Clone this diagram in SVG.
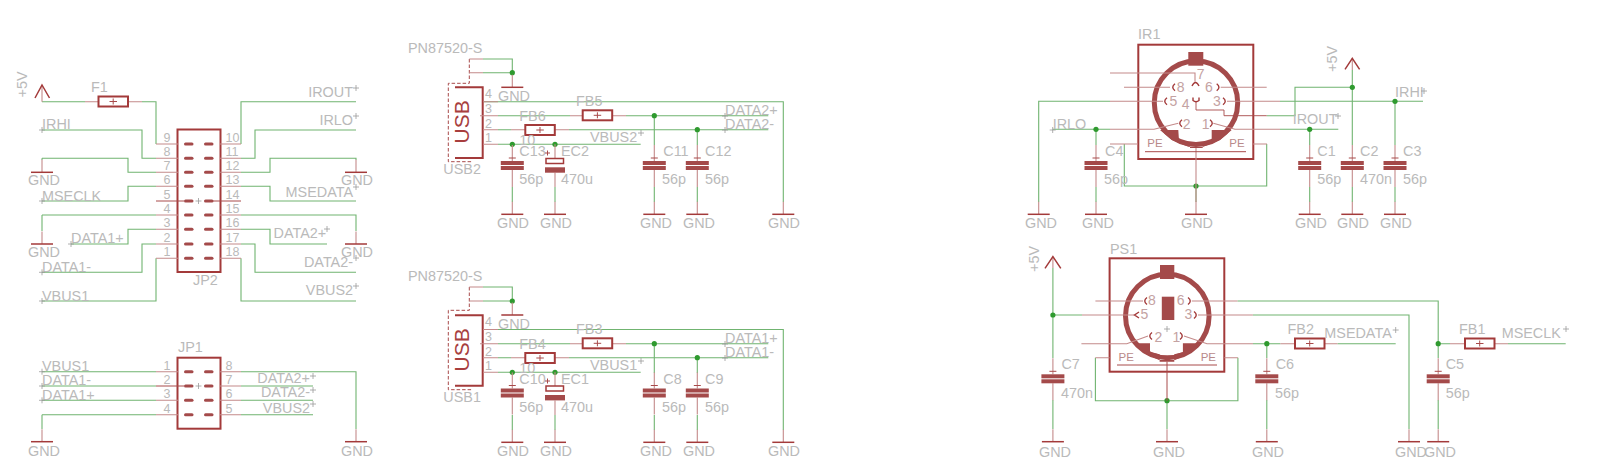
<svg xmlns="http://www.w3.org/2000/svg" xmlns:xlink="http://www.w3.org/1999/xlink" width="1600" height="472" viewBox="0 0 1600 472">
<style>
text{font-family:"Liberation Sans",Arial,sans-serif;font-size:14.400px;fill:#bababa}
.n{font-size:12.500px}
.m{font-size:14px;fill:#c4a2a2}
.pe{font-size:11.500px;fill:#b98a8a}
.u{font-size:21px;fill:#a83e3e}
.r{text-anchor:end}
.w{fill:none;stroke:#70b470;stroke-width:1.100}
.p{fill:none;stroke:#c48a8a;stroke-width:1.100}
.d{fill:none;stroke:#a84a4a;stroke-width:1}
.s{fill:none;stroke:#a33a3a;stroke-width:2}
.a{fill:none;stroke:#a33a3a;stroke-width:1.400}
.f{fill:#a44a4a;stroke:none}
.o{fill:none;stroke:#9a9a9a;stroke-width:.8}
.j{fill:#2f9a2f}
</style>
<defs>
<path id="x" class="o" d="M-3 0H3M0 -3V3"/>
<g id="cap"><path class="p" d="M0 -16V0M0 9V26"/><path class="d" d="M-3.500 -3H3.500"/><rect class="f" x="-11.500" y="0" width="23" height="4"/><rect class="f" x="-11.500" y="5" width="23" height="4"/></g>
<g id="gnd"><path class="p" d="M0 -12.500V0"/><path class="s" d="M-11 0H11" style="stroke-width:1.500"/></g>
<g id="fb"><rect class="s" x="0" y="0" width="29.500" height="10"/><path class="d" d="M11 5H18.500M14.700 2V8"/></g>
<rect id="pad" class="f" x="0" y="-1.500" width="9.500" height="3" rx="1.500"/>
<circle id="dot" class="j" r="2.600"/>
<path id="al" class="a" d="M2 -3.500Q-2.500 0 2 3.500"/>
<path id="ar" class="a" d="M-2 -3.500Q2.500 0 -2 3.500"/>
</defs>

<g id="connectors">
<path class="w" d="M42 101.700H85M142 101.700H156V144M42 130H142V158.300H156M42 158.300H128V172.300H156M42 158.300V160M42 201H128V186.300H156M42 215H156M42 215V231M71 244H128V229.300H156M42 272.300H142V244H156M42 301H156V258.300"/>
<path class="w" d="M241 144V101.700H356M241 158.300H255V130H356M241 172.300H270V158.300H356V160M241 186.300H270V201H356M241 215H356V231M241 229.300H270V244H327M241 244H255V272.300H356M241 258.300V301H356"/>
<path class="w" d="M42 371.700H156M42 386H156M42 400.300H156M42 414.700H156M42 414.700V429M241 371.700H356V429M241 386H313M241 400.300H313M241 414.700H313"/>
<path class="w" d="M483 59H512.300V74.800M483 72.700H512.300M483 101.700H783.300V202M498 115.700H570M626 115.700H768.300M498 129.700H511M569 129.700H768.300M498 144.300H640.700M654.300 115.700V145M654.300 187V202M697.300 129.700V145M697.300 187V202M512.300 187V202M555 187V202"/>
<path class="w" d="M483 287H512.300V302.500M483 301H512.300M483 329.500H783.300V430M498 343.700H570M626 343.700H768.300M498 357.700H511M569 357.700H768.300M498 372.300H640.700M654.300 343.700V373M654.300 415V430M697.300 357.700V373M697.300 415V430M512.300 415V430M555 415V430"/>
<path class="w" d="M1110 101.300H1038.700V202M1052.700 129.300H1110M1096 129.300V145M1096 187V202M1280 101.300H1423M1266.700 115.700H1295V87.300H1352.300M1280 129.300H1338.300M1309.700 129.300V145M1309.700 187V202M1352.300 70V145M1352.300 187V202M1395 101.300V145M1395 187V202M1124.300 144V186H1266.700V144M1196 186V202"/>
<path class="w" d="M1052.900 268V358M1052.900 400V429M1052.900 315H1082M1252.900 315H1409V429M1237.500 301H1438.200V358M1438.200 400V429M1253 343.700H1280.400M1337.500 343.700H1395.700M1266.800 343.700V358M1266.800 400V429M1095.400 357.700V400.700H1237.900V357.700M1167 400.700V429M1438.200 343.700H1450M1508 343.700H1565.700"/>
<use href="#dot" x="512.300" y="72.700"/><use href="#dot" x="654.300" y="115.700"/><use href="#dot" x="697.300" y="129.700"/><use href="#dot" x="512.300" y="144.300"/><use href="#dot" x="555" y="144.300"/>
<use href="#dot" x="512.300" y="301"/><use href="#dot" x="654.300" y="343.700"/><use href="#dot" x="697.300" y="357.700"/><use href="#dot" x="512.300" y="372.300"/><use href="#dot" x="555" y="372.300"/>
<use href="#dot" x="1096" y="129.300"/><use href="#dot" x="1309.700" y="129.300"/><use href="#dot" x="1352.300" y="87.300"/><use href="#dot" x="1395" y="101.300"/><use href="#dot" x="1196" y="186"/>
<use href="#dot" x="1052.900" y="315"/><use href="#dot" x="1266.800" y="343.700"/><use href="#dot" x="1438.200" y="343.700"/><use href="#dot" x="1167" y="400.700"/>
</g>

<g id="JP2">
<rect class="s" x="177.500" y="129.500" width="43" height="142.500"/>
<path class="p" d="M156 144H178M156 158.300H178M156 172.300H178M156 186.300H178M156 215H178M156 229.300H178M156 244H178M156 258.300H178M220 144H241M220 158.300H241M220 172.300H241M220 186.300H241M220 215H241M220 229.300H241M220 244H241M220 258.300H241"/>
<path class="d" d="M156 201H184M213 201H241"/>
<use href="#pad" x="184" y="144"/><use href="#pad" x="204" y="144"/><use href="#pad" x="184" y="158.300"/><use href="#pad" x="204" y="158.300"/><use href="#pad" x="184" y="172.300"/><use href="#pad" x="204" y="172.300"/><use href="#pad" x="184" y="186.300"/><use href="#pad" x="204" y="186.300"/><use href="#pad" x="184" y="201"/><use href="#pad" x="204" y="201"/><use href="#pad" x="184" y="215"/><use href="#pad" x="204" y="215"/><use href="#pad" x="184" y="229.300"/><use href="#pad" x="204" y="229.300"/><use href="#pad" x="184" y="244"/><use href="#pad" x="204" y="244"/><use href="#pad" x="184" y="258.300"/><use href="#pad" x="204" y="258.300"/>
<use href="#x" x="198.500" y="201"/>
<text class="n" x="163.500" y="141.700">9</text><text class="n" x="163.500" y="156">8</text><text class="n" x="163.500" y="170">7</text><text class="n" x="163.500" y="184">6</text><text class="n" x="163.500" y="198.700">5</text><text class="n" x="163.500" y="212.700">4</text><text class="n" x="163.500" y="227">3</text><text class="n" x="163.500" y="241.700">2</text><text class="n" x="163.500" y="256">1</text>
<text class="n" x="225.500" y="141.700">10</text><text class="n" x="225.500" y="156">11</text><text class="n" x="225.500" y="170">12</text><text class="n" x="225.500" y="184">13</text><text class="n" x="225.500" y="198.700">14</text><text class="n" x="225.500" y="212.700">15</text><text class="n" x="225.500" y="227">16</text><text class="n" x="225.500" y="241.700">17</text><text class="n" x="225.500" y="256">18</text>
<text x="193" y="285">JP2</text>
</g>

<g id="JP1">
<rect class="s" x="177.500" y="357.700" width="43" height="71"/>
<path class="p" d="M156 371.700H178M156 400.300H178M156 414.700H178M220 371.700H241M220 386H241M220 400.300H241M220 414.700H241"/>
<path class="d" d="M156 386H184"/>
<use href="#pad" x="184" y="371.700"/><use href="#pad" x="204" y="371.700"/><use href="#pad" x="184" y="386"/><use href="#pad" x="204" y="386"/><use href="#pad" x="184" y="400.300"/><use href="#pad" x="204" y="400.300"/><use href="#pad" x="184" y="414.700"/><use href="#pad" x="204" y="414.700"/>
<use href="#x" x="198.500" y="386"/>
<text class="n" x="163.500" y="369.500">1</text><text class="n" x="163.500" y="384">2</text><text class="n" x="163.500" y="398">3</text><text class="n" x="163.500" y="412.500">4</text>
<text class="n" x="225.500" y="369.500">8</text><text class="n" x="225.500" y="384">7</text><text class="n" x="225.500" y="398">6</text><text class="n" x="225.500" y="412.500">5</text>
<text x="178" y="352">JP1</text>
</g>

<g id="F1"><path class="p" d="M85 101.700H98.500M127.500 101.700H142"/><use href="#fb" x="98.500" y="96.500"/><text x="91" y="91.500">F1</text></g>
<g id="sup-5V-1"><path class="p" d="M42 85V101.700"/><path class="s" d="M35 98L42 85L49.500 98" style="stroke-width:1.500"/><text transform="translate(27 97.500) rotate(-90)">+5V</text></g>

<g id="labels-left">
<text x="42" y="129">IRHI</text><use href="#x" x="42" y="130"/>
<text x="42" y="201">MSECLK</text><use href="#x" x="42" y="201"/>
<text x="71" y="243">DATA1+</text><use href="#x" x="71" y="244"/>
<text x="42" y="272">DATA1-</text><use href="#x" x="42" y="272.300"/>
<text x="42" y="300.500">VBUS1</text><use href="#x" x="42" y="301"/>
<text class="r" x="353" y="97">IROUT</text><use href="#x" x="356" y="88"/>
<text class="r" x="353" y="125">IRLO</text><use href="#x" x="356" y="116"/>
<text class="r" x="353" y="196.500">MSEDATA</text><use href="#x" x="356" y="187"/>
<text x="273.500" y="238">DATA2+</text><use href="#x" x="327" y="229"/>
<text class="r" x="353" y="267">DATA2-</text><use href="#x" x="356" y="258"/>
<text class="r" x="353" y="295">VBUS2</text><use href="#x" x="356" y="286"/>
<text x="42" y="371">VBUS1</text><use href="#x" x="42" y="371.700"/>
<text x="42" y="385">DATA1-</text><use href="#x" x="42" y="386"/>
<text x="42" y="399.500">DATA1+</text><use href="#x" x="42" y="400.300"/>
<text class="r" x="310" y="383">DATA2+</text><use href="#x" x="313" y="376"/>
<text class="r" x="310" y="397">DATA2-</text><use href="#x" x="313" y="390"/>
<text class="r" x="310" y="412.500">VBUS2</text><use href="#x" x="313" y="404"/>
</g>

<g id="USB2">
<path class="s" d="M455 87.300H482.700V158H455"/>
<path class="d" stroke-dasharray="3.500 2" d="M469.300 59V83.300H448.300V161.700H473"/>
<path class="p" d="M469.300 59H483M469.300 72.700H483M483 101.700H498M480 115.700H498M483 129.700H498M483 144.300H498"/>
<text class="u" transform="translate(469 143.500) rotate(-90)">USB</text>
<text class="n" x="485" y="98">4</text><text class="n" x="485" y="112.700">3</text><text class="n" x="485" y="127.700">2</text><text class="n" x="485" y="141.700">1</text>
<text x="408" y="53.300">PN87520-S</text><text x="443.300" y="174.300">USB2</text>
</g>
<g id="FB5"><path class="p" d="M570 115.700H582.700M612 115.700H626"/><use href="#fb" x="582.700" y="110.300"/><text x="576" y="106">FB5</text></g>
<g id="FB6"><path class="p" d="M511 129.700H525.300M555 129.700H569"/><use href="#fb" x="525.300" y="125"/><text x="519.300" y="120.700">FB6</text><text x="519.300" y="145">10</text></g>
<g id="C13"><use href="#cap" x="512.300" y="161"/><text x="519.300" y="155.700">C13</text><text x="519.300" y="184">56p</text></g>
<g id="EC2"><path class="p" d="M555 144.300V158.500M555 172.700V187"/><rect x="546" y="158.500" width="17.500" height="5" fill="none" stroke="#a33a3a" stroke-width="1.500"/><rect class="f" x="545" y="167.300" width="20" height="5.400"/><path class="d" d="M545 153H550M547.500 150.500V155.500"/><text x="561" y="155.700">EC2</text><text x="561" y="184">470u</text></g>
<g id="C11"><use href="#cap" x="654.300" y="161"/><text x="663.300" y="155.700">C11</text><text x="662" y="184">56p</text></g>
<g id="C12"><use href="#cap" x="697.300" y="161"/><text x="705" y="155.700">C12</text><text x="705" y="184">56p</text></g>
<g id="labels-usb2"><text x="725" y="115">DATA2+</text><use href="#x" x="725" y="116"/><text x="725" y="129.300">DATA2-</text><use href="#x" x="725" y="130"/><text x="590" y="141.700">VBUS2</text><use href="#x" x="641" y="133"/></g>

<g id="USB1">
<path class="s" d="M455 315.300H482.700V385.700H455"/>
<path class="d" stroke-dasharray="3.500 2" d="M469.300 287V310.300H448.300V389.700H473"/>
<path class="p" d="M469.300 287H483M469.300 301H483M483 329.500H498M480 343.700H498M483 357.700H498M483 372.300H498"/>
<text class="u" transform="translate(469 371.500) rotate(-90)">USB</text>
<text class="n" x="485" y="326">4</text><text class="n" x="485" y="340.700">3</text><text class="n" x="485" y="355.700">2</text><text class="n" x="485" y="369.700">1</text>
<text x="408" y="281.300">PN87520-S</text><text x="443.300" y="402.300">USB1</text>
</g>
<g id="FB3"><path class="p" d="M570 343.700H582.700M612 343.700H626"/><use href="#fb" x="582.700" y="338.300"/><text x="576" y="334">FB3</text></g>
<g id="FB4"><path class="p" d="M511 357.700H525.300M555 357.700H569"/><use href="#fb" x="525.300" y="353"/><text x="519.300" y="348.700">FB4</text><text x="519.300" y="373">10</text></g>
<g id="C10"><use href="#cap" x="512.300" y="388.500"/><text x="519.300" y="383.700">C10</text><text x="519.300" y="412">56p</text></g>
<g id="EC1"><path class="p" d="M555 372.300V386M555 400.500V415"/><rect x="546" y="386" width="17.500" height="5" fill="none" stroke="#a33a3a" stroke-width="1.500"/><rect class="f" x="545" y="395" width="20" height="5.400"/><path class="d" d="M545 381H550M547.500 378.500V383.500"/><text x="561" y="383.700">EC1</text><text x="561" y="412">470u</text></g>
<g id="C8"><use href="#cap" x="654.300" y="388.500"/><text x="663.300" y="383.700">C8</text><text x="662" y="412">56p</text></g>
<g id="C9"><use href="#cap" x="697.300" y="388.500"/><text x="705" y="383.700">C9</text><text x="705" y="412">56p</text></g>
<g id="labels-usb1"><text x="725" y="343">DATA1+</text><use href="#x" x="725" y="344"/><text x="725" y="357.300">DATA1-</text><use href="#x" x="725" y="358"/><text x="590" y="369.700">VBUS1</text><use href="#x" x="641" y="361"/></g>

<g id="IR1">
<rect class="s" x="1138.300" y="44.700" width="115" height="114.300"/>
<circle cx="1196" cy="102.700" r="41.700" fill="none" stroke="#a44a4a" stroke-width="5"/>
<rect class="f" x="1188.300" y="52" width="15" height="13.700"/>
<path class="f" d="M1160 130H1178.300L1179 140.700L1190 143.300V148H1202.700V143.300L1211.700 140V130H1231.700L1220 140L1203.300 146.700H1188.300L1171.700 140Z"/>
<path class="p" d="M1110 73H1195V81.700M1124 87.300H1170M1220.700 87.300H1266.700M1110 101.300H1163M1227 101.300H1280M1110 129.300H1154L1178.300 123.300M1213.300 123.300L1235 129.300H1280M1110 144H1138M1253 144H1267M1196 148V202"/>
<path class="d" d="M1196 101.700V110H1224V115.700H1266.700" style="stroke-width:.9"/>
<path class="d" d="M1145 151.700H1246"/>
<use href="#al" x="1173" y="87.300"/><use href="#ar" x="1218.700" y="87.300"/><use href="#al" x="1165" y="101.300"/><use href="#ar" x="1225" y="101.300"/><use href="#al" x="1180" y="123.300"/><use href="#ar" x="1212" y="123.300"/>
<path class="a" d="M1192 86Q1195.500 79 1199 86M1193 97.500V100.500Q1196 103 1199 100.500V97.500"/>
<text class="m" x="1196.700" y="79.300">7</text><text class="m" x="1176.700" y="91.500">8</text><text class="m" x="1205" y="91.500">6</text><text class="m" x="1169.500" y="106">5</text><text class="m" x="1213" y="106">3</text><text class="m" x="1181.700" y="109.300">4</text><text class="m" x="1182.700" y="129">2</text><text class="m" x="1201.700" y="129">1</text>
<text class="pe" x="1147.300" y="147.300">PE</text><text class="pe" x="1229.300" y="147.300">PE</text>
<text x="1138" y="39">IR1</text>
</g>
<g id="C4"><use href="#cap" x="1096" y="161"/><text x="1105" y="155.700">C4</text><text x="1104" y="184">56p</text></g>
<g id="C1"><use href="#cap" x="1309.700" y="161"/><text x="1317.300" y="155.700">C1</text><text x="1317.300" y="184">56p</text></g>
<g id="C2"><use href="#cap" x="1352.300" y="161"/><text x="1360" y="155.700">C2</text><text x="1360" y="184">470n</text></g>
<g id="C3"><use href="#cap" x="1395" y="161"/><text x="1403" y="155.700">C3</text><text x="1403" y="184">56p</text></g>
<g id="sup-5V-2"><path class="p" d="M1352.300 58V70"/><path class="s" d="M1345 69.300L1352.300 58.300L1359.600 69.300" style="stroke-width:1.500"/><text transform="translate(1337 72) rotate(-90)">+5V</text></g>
<g id="labels-ir"><text x="1052.700" y="129">IRLO</text><use href="#x" x="1052.700" y="130"/><text x="1292.700" y="124.300">IROUT</text><use href="#x" x="1338" y="116"/><text x="1395" y="96.700">IRHI</text><use href="#x" x="1424" y="91"/></g>

<g id="PS1">
<rect class="s" x="1109.600" y="258.300" width="114.700" height="113.400"/>
<circle cx="1167.300" cy="316" r="41.800" fill="none" stroke="#a44a4a" stroke-width="5"/>
<rect class="f" x="1160" y="265" width="14.300" height="14"/>
<rect class="f" x="1161.800" y="296.700" width="12.500" height="23.300"/>
<path class="f" d="M1137.500 343.300H1150V352.300L1159.600 354.300V361.700H1174.300V354.300L1182.900 352.300V343.300H1198L1189.300 353.300L1175 360H1159L1144.600 353.300Z"/>
<path class="p" d="M1095.400 301H1143M1191.800 301H1237.500M1082 315H1134M1198 315H1252.900M1081.400 343.700H1126.800L1148 336M1184 336L1207 343.700H1253M1095.400 357.700H1109.600M1224.300 357.700H1237.900"/>
<path class="d" d="M1117 365H1217M1167 361.700V400.700"/>
<use href="#al" x="1145" y="301"/><use href="#ar" x="1190" y="301"/><use href="#ar" x="1196" y="315"/><use href="#al" x="1150" y="336"/><use href="#ar" x="1182" y="336"/>
<path class="a" d="M1139 312L1134.500 315L1139 318"/>
<use href="#x" x="1167" y="329"/>
<text class="m" x="1148" y="305">8</text><text class="m" x="1176.800" y="305">6</text><text class="m" x="1140.400" y="319">5</text><text class="m" x="1184.600" y="319">3</text><text class="m" x="1154.600" y="341.700">2</text><text class="m" x="1172.500" y="341.700">1</text>
<text class="pe" x="1118.600" y="361">PE</text><text class="pe" x="1200.700" y="361">PE</text>
<text x="1110" y="254">PS1</text>
</g>
<g id="sup-5V-3"><path class="p" d="M1052.900 256.700V268"/><path class="s" d="M1045 268.300L1052.900 256.700L1060.800 268.300" style="stroke-width:1.500"/><text transform="translate(1039 272) rotate(-90)">+5V</text></g>
<g id="C7"><use href="#cap" x="1052.900" y="374.300"/><text x="1061.400" y="369.300">C7</text><text x="1061" y="397.700">470n</text></g>
<g id="C6"><use href="#cap" x="1266.800" y="374.300"/><text x="1275.700" y="369.300">C6</text><text x="1275" y="397.700">56p</text></g>
<g id="C5"><use href="#cap" x="1438.200" y="374.300"/><text x="1445.700" y="369.300">C5</text><text x="1445.700" y="397.700">56p</text></g>
<g id="FB2"><path class="p" d="M1280.400 343.700H1295M1324.500 343.700H1337.500"/><use href="#fb" x="1295" y="338.500"/><text x="1287.500" y="334.300">FB2</text></g>
<g id="FB1"><path class="p" d="M1450 343.700H1465M1494.500 343.700H1508"/><use href="#fb" x="1465" y="338.500"/><text x="1459" y="334.300">FB1</text></g>
<g id="labels-ps"><text x="1324.300" y="338.300">MSEDATA</text><use href="#x" x="1395.700" y="330"/><text x="1501.700" y="337.700">MSECLK</text><use href="#x" x="1566" y="329"/></g>

<g id="gnd-symbols">
<use href="#gnd" x="42" y="172.300"/><text x="28" y="185">GND</text>
<use href="#gnd" x="42" y="244"/><text x="28" y="257">GND</text>
<use href="#gnd" x="356" y="172.300"/><text x="341" y="185">GND</text>
<use href="#gnd" x="356" y="244"/><text x="341" y="257">GND</text>
<use href="#gnd" x="42" y="441.700"/><text x="28" y="456">GND</text>
<use href="#gnd" x="356" y="441.700"/><text x="341" y="456">GND</text>
<use href="#gnd" x="512.300" y="87.300"/><text x="498" y="100.700">GND</text>
<use href="#gnd" x="512.300" y="214.300"/><text x="497" y="228">GND</text>
<use href="#gnd" x="555" y="214.300"/><text x="540" y="228">GND</text>
<use href="#gnd" x="654.300" y="214.300"/><text x="640" y="228">GND</text>
<use href="#gnd" x="697.300" y="214.300"/><text x="683" y="228">GND</text>
<use href="#gnd" x="783.300" y="214.300"/><text x="768" y="228">GND</text>
<use href="#gnd" x="512.300" y="315"/><text x="498" y="328.500">GND</text>
<use href="#gnd" x="512.300" y="442.300"/><text x="497" y="456">GND</text>
<use href="#gnd" x="555" y="442.300"/><text x="540" y="456">GND</text>
<use href="#gnd" x="654.300" y="442.300"/><text x="640" y="456">GND</text>
<use href="#gnd" x="697.300" y="442.300"/><text x="683" y="456">GND</text>
<use href="#gnd" x="783.300" y="442.300"/><text x="768" y="456">GND</text>
<use href="#gnd" x="1038.700" y="214.300"/><text x="1025" y="228">GND</text>
<use href="#gnd" x="1096" y="214.300"/><text x="1082" y="228">GND</text>
<use href="#gnd" x="1196" y="214.300"/><text x="1181" y="228">GND</text>
<use href="#gnd" x="1309.700" y="214.300"/><text x="1295" y="228">GND</text>
<use href="#gnd" x="1352.300" y="214.300"/><text x="1337" y="228">GND</text>
<use href="#gnd" x="1395" y="214.300"/><text x="1380" y="228">GND</text>
<use href="#gnd" x="1052.900" y="441.700"/><text x="1039" y="456.500">GND</text>
<use href="#gnd" x="1167" y="441.700"/><text x="1153" y="456.500">GND</text>
<use href="#gnd" x="1266.800" y="441.700"/><text x="1252" y="456.500">GND</text>
<use href="#gnd" x="1409" y="441.700"/><text x="1395" y="456.500">GND</text>
<use href="#gnd" x="1438.200" y="441.700"/><text x="1424" y="456.500">GND</text>
</g>
</svg>
